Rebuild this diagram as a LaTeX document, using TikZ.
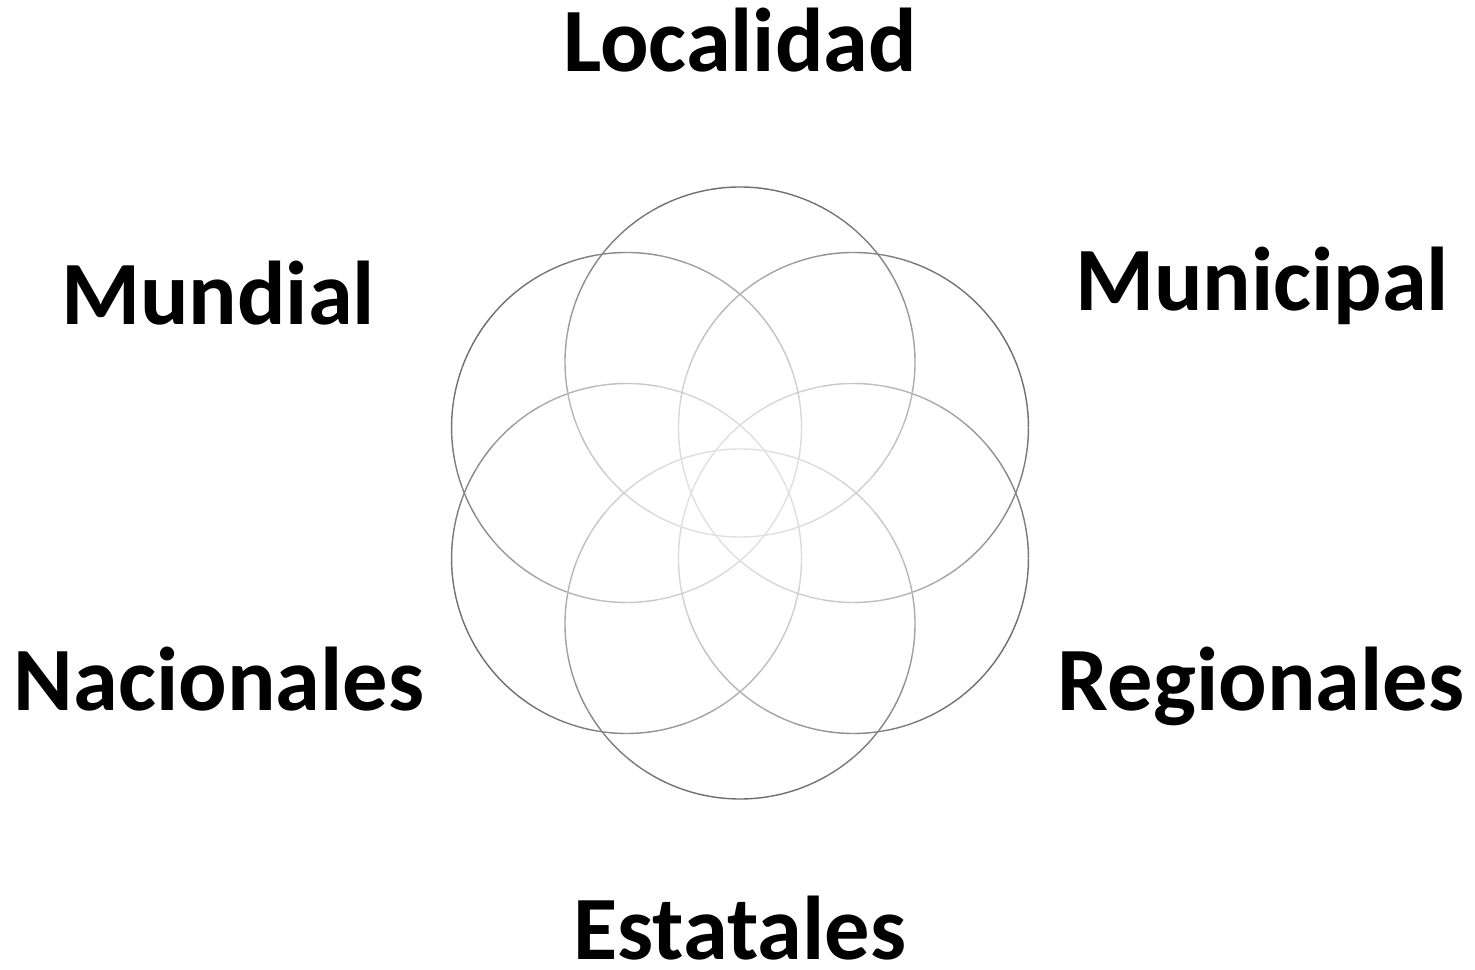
\documentclass[tikz,border=0pt]{standalone}
\usepackage{fontspec}
\setmainfont{Carlito}
\usepackage{tikz}
\usetikzlibrary{positioning}

\begin{document}
\begin{tikzpicture}[levelname/.style={font=\fontsize{51.5}{62}\selectfont\bfseries,anchor=base,inner sep=0pt},
  ring/.style={line width=0.8pt}]
  \useasboundingbox (0,0) rectangle (29.5,19.4);
  \coordinate (o) at (14.8,9.54);
  % six rings, darker on their outer side
  \foreach \d in {90,30,-30,-90,-150,150}{
    \foreach \a in {0,10,...,350}{
      \pgfmathsetmacro{\tone}{12+45*(1+cos(\a+5-\d))/2}
      \draw[ring,black!\tone] (o) ++(\d:2.62) ++(\a:3.5) arc[start angle=\a,end angle=\a+10,radius=3.5];
    }
  }
  \node[levelname] (loc) at (14.8,17.96) {Localidad};
  \node[levelname] (mun) at (25.24,13.18) {Municipal};
  \node[levelname] (mund) at (4.36,12.9) {Mundial};
  \node[levelname] (nac) at (4.38,5.18) {Nacionales};
  \node[levelname] (reg) at (25.22,5.18) {Regionales};
  \node[levelname] (est) at (14.8,0.2) {Estatales};
\end{tikzpicture}
\end{document}
